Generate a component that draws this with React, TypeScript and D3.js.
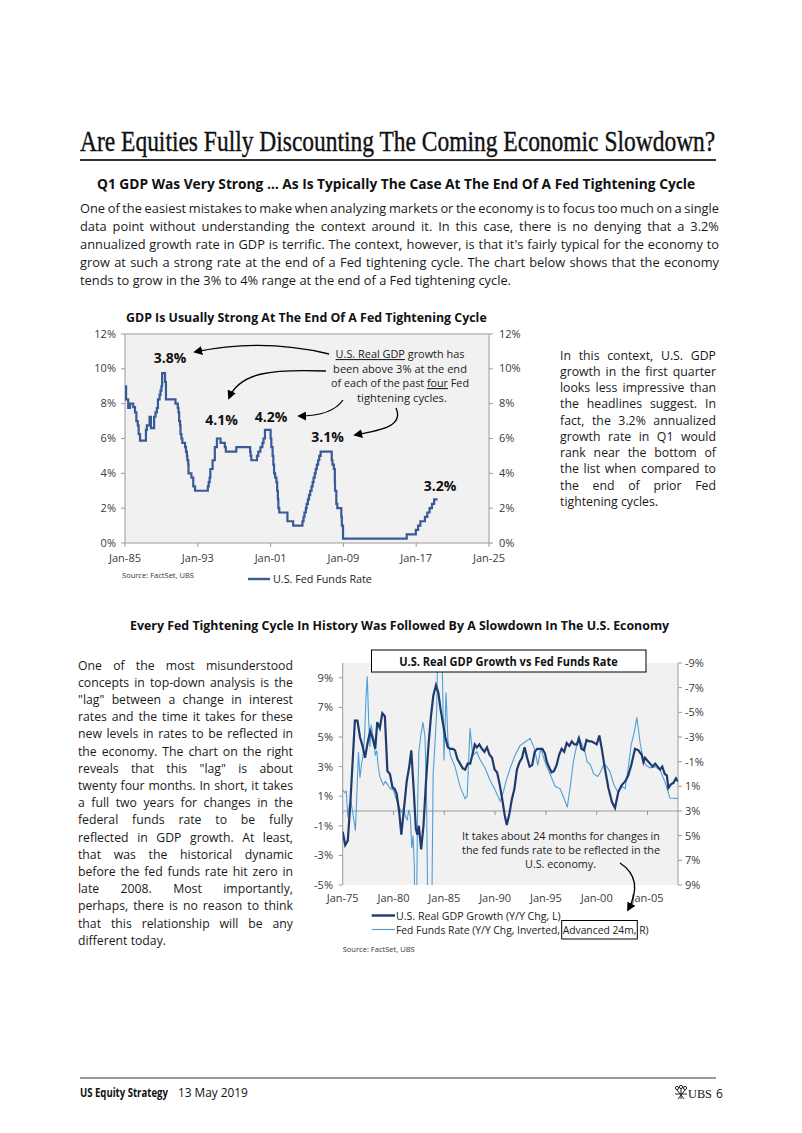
import React from "react";
import * as d3 from "d3";

const SANS = "'Open Sans', 'Noto Sans', sans-serif";
const SERIF = "'Liberation Serif', 'DejaVu Serif', serif";

// ---------- Top chart data: U.S. Fed Funds Rate (step changes) ----------
const fedYears = [
  1985.0, 1985.12, 1985.35, 1985.55, 1985.9, 1986.1, 1986.25, 1986.4, 1986.5, 1986.65,
  1987.3, 1987.4, 1987.7, 1987.85, 1988.2, 1988.35, 1988.5, 1988.62, 1988.8, 1988.9,
  1989.0, 1989.08, 1989.4, 1989.5, 1990.55, 1990.8, 1990.88, 1990.95, 1991.05, 1991.1,
  1991.2, 1991.3, 1991.6, 1991.7, 1991.8, 1991.85, 1991.95, 1991.98, 1992.3, 1992.5,
  1992.7, 1994.1, 1994.2, 1994.3, 1994.38, 1994.63, 1994.87, 1995.1, 1995.5, 1995.97,
  1996.08, 1997.23, 1998.75, 1998.8, 1998.88, 1999.5, 1999.65, 1999.88, 2000.1, 2000.22,
  2000.38, 2001.0, 2001.08, 2001.22, 2001.3, 2001.38, 2001.5, 2001.64, 2001.72, 2001.8,
  2001.85, 2001.95, 2002.85, 2003.48, 2004.5, 2004.62, 2004.72, 2004.87, 2004.96, 2005.1,
  2005.22, 2005.35, 2005.5, 2005.62, 2005.72, 2005.85, 2005.96, 2006.08, 2006.22, 2006.35,
  2006.5, 2007.72, 2007.8, 2007.95, 2008.06, 2008.08, 2008.22, 2008.33, 2008.77, 2008.83,
  2008.96, 2015.96, 2016.96, 2017.21, 2017.46, 2017.96, 2018.22, 2018.47, 2018.73, 2018.97,
  2019.35,
];
const fedRates = [
  9.0, 8.25, 7.75, 8.0, 7.8, 7.5, 7.0, 6.75, 6.25, 5.875,
  6.5, 6.75, 7.25, 6.6, 7.25, 7.5, 7.75, 8.25, 8.5, 8.75,
  9.0, 9.75, 9.25, 8.25, 8.0, 7.75, 7.5, 7.0, 6.75, 6.25,
  6.0, 5.75, 5.5, 5.25, 5.0, 4.75, 4.5, 4.0, 3.75, 3.25,
  3.0, 3.25, 3.5, 3.75, 4.25, 4.75, 5.5, 6.0, 5.75, 5.5,
  5.25, 5.5, 5.25, 5.0, 4.75, 5.0, 5.25, 5.5, 5.75, 6.0,
  6.5, 6.0, 5.5, 5.0, 4.5, 4.0, 3.75, 3.5, 3.0, 2.5,
  2.0, 1.75, 1.25, 1.0, 1.25, 1.5, 1.75, 2.0, 2.25, 2.5,
  2.75, 3.0, 3.25, 3.5, 3.75, 4.0, 4.25, 4.5, 4.75, 5.0,
  5.25, 4.75, 4.5, 4.25, 3.5, 3.0, 2.25, 2.0, 1.5, 1.0,
  0.25, 0.5, 0.75, 1.0, 1.25, 1.5, 1.75, 2.0, 2.25, 2.5,
  2.5,
];
const topYTicks = [0, 2, 4, 6, 8, 10, 12];
const topXTickYears = [1985, 1993, 2001, 2009, 2017, 2025];
const topXTickLabels = ["Jan-85", "Jan-93", "Jan-01", "Jan-09", "Jan-17", "Jan-25"];

// ---------- Bottom chart data ----------
const gdpYears = [
  1975.0, 1975.25, 1975.5, 1975.75, 1975.95, 1976.2, 1976.45, 1976.7, 1976.95, 1977.2,
  1977.45, 1977.7, 1977.95, 1978.2, 1978.4, 1978.65, 1978.9, 1979.15, 1979.4, 1979.65,
  1979.9, 1980.1, 1980.3, 1980.55, 1980.77, 1981.05, 1981.3, 1981.55, 1981.75, 1982.0,
  1982.2, 1982.35, 1982.5, 1982.72, 1982.95, 1983.2, 1983.45, 1983.7, 1983.92, 1984.18,
  1984.41, 1984.65, 1984.9, 1985.1, 1985.35, 1985.6, 1985.85, 1986.05, 1986.3, 1986.55,
  1986.8, 1987.05, 1987.3, 1987.55, 1987.8, 1988.0, 1988.2, 1988.45, 1988.7, 1988.95,
  1989.2, 1989.45, 1989.7, 1989.95, 1990.2, 1990.45, 1990.7, 1990.95, 1991.15, 1991.4,
  1991.65, 1991.9, 1992.15, 1992.4, 1992.65, 1992.9, 1993.15, 1993.4, 1993.65, 1993.9,
  1994.15, 1994.4, 1994.65, 1994.9, 1995.1, 1995.35, 1995.56, 1995.8, 1996.05, 1996.3,
  1996.55, 1996.8, 1997.05, 1997.3, 1997.55, 1997.8, 1998.05, 1998.25, 1998.5, 1998.75,
  1999.0, 1999.25, 1999.5, 1999.75, 2000.0, 2000.26, 2000.5, 2000.8, 2001.15, 2001.5,
  2001.8, 2002.13, 2002.46, 2002.8, 2003.1, 2003.4, 2003.77, 2004.1, 2004.43, 2004.6,
  2004.75, 2005.0, 2005.25, 2005.5, 2005.75, 2006.0, 2006.23, 2006.45, 2006.7, 2006.9,
  2007.05, 2007.3, 2007.55, 2007.8, 2008.0,
];
const gdpGrowth = [
  -1.4, -2.3, -2.0, 0.5, 3.0, 6.1, 6.1, 5.0, 4.4, 3.6,
  4.6, 5.4, 4.9, 4.2, 6.0, 5.6, 6.6, 6.4, 2.7, 2.5,
  1.6, 1.5, 1.2, 0.0, -1.6, 0.3, 2.0, 3.0, 4.1, 1.3,
  -1.2, -1.6, -1.0, -2.6, -1.0, 2.0, 4.5, 6.5, 7.8, 8.5,
  8.0, 6.8, 5.8, 5.0, 4.3, 4.2, 4.2, 4.1, 3.5, 3.2,
  2.9, 2.8, 3.2, 3.2, 3.9, 4.5, 4.3, 4.5, 4.2, 4.0,
  4.3, 3.8, 3.6, 2.8, 2.6, 1.8, 0.8, -0.3, -0.95, -0.2,
  0.8, 1.5, 2.8, 3.3, 3.6, 4.3, 3.6, 3.0, 3.1, 4.0,
  4.2, 4.2, 4.2, 3.9, 3.3, 2.9, 2.6, 2.7, 3.1, 3.8,
  4.2, 4.0, 4.6, 4.4, 4.7, 4.5, 4.5, 4.9, 4.2, 4.1,
  4.8, 4.7, 4.7, 4.6, 4.5, 5.1, 4.2, 2.9, 1.55, 0.6,
  0.2, 1.3, 1.75, 2.0, 2.4, 3.1, 4.2, 4.1, 3.8, 3.3,
  3.6, 3.4, 3.2, 3.0, 3.2, 3.0, 2.8, 3.0, 2.5, 2.4,
  1.55, 1.8, 1.9, 2.2, 2.0,
];
const ffYears = [
  1975.0, 1975.2, 1975.35, 1975.5, 1975.65, 1975.8, 1976.0, 1976.15, 1976.25, 1976.4,
  1976.55, 1976.7, 1976.85, 1977.0, 1977.15, 1977.3, 1977.42, 1977.55, 1977.68, 1977.8,
  1977.95, 1978.1, 1978.2, 1978.35, 1978.5, 1978.65, 1978.8, 1979.0, 1979.2, 1979.45,
  1979.7, 1980.0, 1980.25, 1980.5, 1980.75, 1981.0, 1981.2, 1981.35, 1981.5, 1981.65,
  1981.8, 1981.92, 1982.05, 1982.12, 1982.25, 1982.38, 1982.5, 1982.7, 1982.9, 1983.1,
  1983.25, 1983.4, 1983.75, 1983.9, 1984.05, 1984.25, 1984.4, 1984.7, 1984.97, 1985.17,
  1985.36, 1985.6, 1986.05, 1986.55, 1987.04, 1987.25, 1987.53, 1987.8, 1988.2, 1988.5,
  1989.0, 1989.5, 1990.0, 1990.5, 1990.8, 1991.1, 1991.5, 1991.95, 1992.45, 1992.95,
  1993.45, 1993.9, 1994.2, 1994.5, 1994.9, 1995.4, 1995.9, 1996.4, 1996.8, 1997.1,
  1997.4, 1997.7, 1998.0, 1998.2, 1998.5, 1998.85, 1999.05, 1999.35, 1999.7, 2000.1,
  2000.4, 2000.7, 2001.0, 2001.3, 2001.7, 2002.1, 2002.5, 2002.8, 2003.1, 2003.4,
  2003.7, 2003.95, 2004.26, 2004.55, 2004.85, 2005.25, 2005.75, 2006.25, 2006.65, 2006.9,
  2007.2, 2008.0,
];
const ffChangeInv = [
  1.3, 1.5, 1.4, 3.5, 2.5, 2.2, 3.2, 4.0, 4.6, 1.5,
  -1.8, 0.3, -0.8, -1.5, -3.0, -6.3, -7.9, -4.5, -2.2, -4.0,
  -3.2, -2.8, -1.5, -1.9, -0.6, 0.2, 0.5, 0.9, 0.6, 0.9,
  1.2, 1.3, 2.0, 2.5, 3.1, 2.8, 3.5, 3.7, 2.9, 3.4,
  6.0, 5.0, 7.5, 13, 13, 2.0, -1.8, -3.2, -4.2, -3.0,
  2.0, 13, 13, 0.0, -2.0, -5.0, -13, -13, -1.1, -6.6,
  -2.7, -1.5, -0.6, 1.0, 2.0, 1.8, -3.7, -1.5, -1.8, -1.2,
  -0.5, 0.5, 1.3, 2.2, 1.5, 0.5, -0.5, -1.5, -2.3, -2.6,
  -2.9, -2.0, -0.7, -2.1, -1.0, 0.0, 1.0, 1.2, 2.0, 2.7,
  1.0, -1.0, -2.2, -3.0, -2.5, -1.8, -1.0, -0.8, 0.0, 0.2,
  -0.2, -0.8, -0.6, -0.2, 0.9, 1.5, 1.0, 1.2, -0.5, -2.4,
  -3.4, -4.6, -2.6, -1.2, -0.7, -0.5, -0.6, -0.3, 0.5, 1.1,
  1.95, 2.0,
];
const botLeftTicks = [9, 7, 5, 3, 1, -1, -3, -5];
const botRightTicks = [-9, -7, -5, -3, -1, 1, 3, 5, 7, 9];
const botXTickYears = [1975, 1980, 1985, 1990, 1995, 2000, 2005];
const botXTickLabels = ["Jan-75", "Jan-80", "Jan-85", "Jan-90", "Jan-95", "Jan-00", "Jan-05"];

// ---------- Text ----------
const para1 = [
  "One of the easiest mistakes to make when analyzing markets or the economy is to focus too much on a single",
  "data point without understanding the context around it. In this case, there is no denying that a 3.2%",
  "annualized growth rate in GDP is terrific. The context, however, is that it's fairly typical for the economy to",
  "grow at such a strong rate at the end of a Fed tightening cycle. The chart below shows that the economy",
  "tends to grow in the 3% to 4% range at the end of a Fed tightening cycle.",
];
const paraRight = [
  "In this context, U.S. GDP",
  "growth in the first quarter",
  "looks less impressive than",
  "the headlines suggest. In",
  "fact, the 3.2% annualized",
  "growth rate in Q1 would",
  "rank near the bottom of",
  "the list when compared to",
  "the end of prior Fed",
  "tightening cycles.",
];
const paraLeft = [
  "One of the most misunderstood",
  "concepts in top-down analysis is the",
  "\"lag\" between a change in interest",
  "rates and the time it takes for these",
  "new levels in rates to be reflected in",
  "the economy. The chart on the right",
  "reveals that this \"lag\" is about",
  "twenty four months. In short, it takes",
  "a full two years for changes in the",
  "federal funds rate to be fully",
  "reflected in GDP growth. At least,",
  "that was the historical dynamic",
  "before the fed funds rate hit zero in",
  "late 2008. Most importantly,",
  "perhaps, there is no reason to think",
  "that this relationship will be any",
  "different today.",
];

let _ctx: CanvasRenderingContext2D | null = null;
function textWidth(t: string, font: string): number {
  if (!_ctx) _ctx = document.createElement("canvas").getContext("2d");
  if (!_ctx) return t.length * 6;
  _ctx.font = font;
  return _ctx.measureText(t).width;
}

function Para(props: { lines: string[]; x: number; y: number; width: number; lh: number; size: number; lastWidth: number }) {
  const { lines, x, y, width, lh, size, lastWidth } = props;
  const font = `400 ${size}px ${SANS}`;
  const k = lastWidth / textWidth(lines[lines.length - 1], font);
  const sp = textWidth(" ", font) * k;
  const out: React.ReactNode[] = [];
  lines.forEach((line, i) => {
    const words = line.split(" ");
    let ws = words.map((w) => textWidth(w, font) * k);
    const last = i === lines.length - 1;
    let gap = sp;
    if (!last && words.length > 1) {
      const tot = ws.reduce((a, b) => a + b, 0);
      gap = (width - tot) / (words.length - 1);
      if (gap < sp * 0.7) {
        const f = (width - sp * 0.7 * (words.length - 1)) / tot;
        ws = ws.map((w) => w * f);
        gap = sp * 0.7;
      }
    }
    let cx = x;
    words.forEach((w, j) => {
      out.push(
        <text key={`${i}-${j}`} x={cx} y={y + i * lh} fontSize={size} fontFamily={SANS} fill="#1a1a1a"
          textLength={ws[j]} lengthAdjust="spacingAndGlyphs">{w}</text>
      );
      cx += ws[j] + gap;
    });
  });
  return <g>{out}</g>;
}

// text fitted to a width by horizontal scaling (transform), optional vertical stretch
function FT(props: { x: number; y: number; w?: number; size: number; weight?: number; anchor?: string; family?: string; fill?: string; sy?: number; str?: string; stroke?: string; children: React.ReactNode }) {
  const { x, y, w, size, weight = 400, anchor = "start", family = SANS, fill = "#111", sy = 1, str, stroke, children } = props;
  const s = typeof children === "string" ? children : str || "";
  const sx = w ? w / textWidth(s, `${weight} ${size}px ${family}`) : 1;
  return (
    <text transform={`translate(${x},${y}) scale(${sx},${sy})`} x={0} y={0} fontSize={size} fontWeight={weight}
      fontFamily={family} fill={fill} stroke={stroke} strokeWidth={stroke ? 0.35 : undefined}
      textAnchor={anchor as any}>{children}</text>
  );
}

export default function App() {
  // top chart scales
  const tx = d3.scaleLinear().domain([1985, 2025]).range([125, 489]);
  const ty = d3.scaleLinear().domain([0, 12]).range([543, 334]);
  const fedPath = d3.line<number>().x((_, i) => tx(fedYears[i])).y((d) => ty(d)).curve(d3.curveStepAfter)(fedRates) || "";

  // bottom chart scales
  const bx = d3.scaleLinear().domain([1975, 2008]).range([342.7, 678]);
  const byL = d3.scaleLinear().domain([-5, 10]).range([885, 663]);
  const byR = d3.scaleLinear().domain([-9, 9]).range([663, 885]);
  const gdpPath = d3.line<number>().x((_, i) => bx(gdpYears[i])).y((d) => byL(d))(gdpGrowth) || "";
  const ffPath = d3.line<number>().x((_, i) => bx(ffYears[i])).y((d) => byR(d))(ffChangeInv) || "";

  const axisGray = "#9a9a9a";
  const tickText = "#3a3a3a";
  const fedColor = "#3a5a96";
  const gdpColor = "#1f3a6e";
  const ffColor = "#4f9fd6";

  return (
    <svg width={802} height={1133} viewBox="0 0 802 1133" style={{ position: "absolute", left: 0, top: 0, background: "#fff" }}>
      <defs>
        <marker id="ah" viewBox="0 0 10 10" refX="8" refY="5" markerWidth="9" markerHeight="9" markerUnits="userSpaceOnUse" orient="auto">
          <path d="M0,0 L10,5 L0,10 z" fill="#000" />
        </marker>
        <clipPath id="botclip"><rect x={342.7} y={663} width={335.3} height={222} /></clipPath>
      </defs>
      <rect x={0} y={0} width={802} height={1133} fill="#fff" />

      {/* Page title */}
      <FT x={80} y={151} w={636} size={26} sy={1.16} family={SERIF} fill="#111" stroke="#111">Are Equities Fully Discounting The Coming Economic Slowdown?</FT>
      <line x1={80} x2={716} y1={160} y2={160} stroke="#333" strokeWidth={2} />
      <FT x={97} y={189} w={599} size={13.5} weight={700} fill="#111">Q1 GDP Was Very Strong … As Is Typically The Case At The End Of A Fed Tightening Cycle</FT>
      <Para lines={para1} x={80} y={213} width={639} lh={17.9} size={13.5} lastWidth={431} />

      {/* ---------- Top chart ---------- */}
      <FT x={126} y={322} w={361} size={12} weight={700}>GDP Is Usually Strong At The End Of A Fed Tightening Cycle</FT>
      <rect x={125} y={334} width={364} height={209} fill="#f1f1f1" stroke={axisGray} strokeWidth={1} />
      {topYTicks.map((t) => (
        <g key={`ty${t}`}>
          <line x1={121} x2={125} y1={ty(t)} y2={ty(t)} stroke={axisGray} />
          <line x1={489} x2={493} y1={ty(t)} y2={ty(t)} stroke={axisGray} />
          <text x={116} y={ty(t) + 3.5} fontSize={11} fontFamily={SANS} fill={tickText} textAnchor="end">{t}%</text>
          <text x={499} y={ty(t) + 3.5} fontSize={11} fontFamily={SANS} fill={tickText}>{t}%</text>
        </g>
      ))}
      {topXTickYears.map((yr, i) => (
        <g key={`tx${yr}`}>
          <line x1={tx(yr)} x2={tx(yr)} y1={543} y2={547} stroke={axisGray} />
          <text x={tx(yr)} y={561.5} fontSize={11} fontFamily={SANS} fill={tickText} textAnchor="middle">{topXTickLabels[i]}</text>
        </g>
      ))}
      <path d={fedPath} fill="none" stroke={fedColor} strokeWidth={2.2} />

      {/* annotations */}
      <FT x={170} y={362.5} size={14} weight={700} anchor="middle">3.8%</FT>
      <FT x={221.5} y={425} size={14} weight={700} anchor="middle">4.1%</FT>
      <FT x={271} y={421.5} size={14} weight={700} anchor="middle">4.2%</FT>
      <FT x={327.5} y={442} size={14} weight={700} anchor="middle">3.1%</FT>
      <FT x={440} y={490.5} size={14} weight={700} anchor="middle">3.2%</FT>
      <FT x={400} y={358} w={129} size={11} anchor="middle" fill="#222" str="U.S. Real GDP growth has">
        <tspan textDecoration="underline">U.S. Real GDP</tspan> growth has
      </FT>
      <FT x={400} y={372.5} w={134} size={11} anchor="middle" fill="#222">been above 3% at the end</FT>
      <FT x={400} y={387} w={138} size={11} anchor="middle" fill="#222" str="of each of the past four Fed">
        of each of the past <tspan textDecoration="underline">four</tspan> Fed
      </FT>
      <FT x={402} y={401.5} w={90} size={11} anchor="middle" fill="#222">tightening cycles.</FT>
      <g fill="none" stroke="#000" strokeWidth={1.3}>
        <path d="M329,354 Q262,338 195,352" markerEnd="url(#ah)" />
        <path d="M326,371 C272,369 240,372 229,398" markerEnd="url(#ah)" />
        <path d="M343,400 Q332,416 299,416" markerEnd="url(#ah)" />
        <path d="M396,408 C404,426 382,430 355,435" markerEnd="url(#ah)" />
      </g>
      <FT x={122} y={578} w={72} size={8} fill="#333">Source: FactSet, UBS</FT>
      <line x1={248} x2={270} y1={579} y2={579} stroke={fedColor} strokeWidth={2.4} />
      <FT x={273} y={583} w={99} size={11.5} fill="#222">U.S. Fed Funds Rate</FT>

      <Para lines={paraRight} x={560} y={359.5} width={156} lh={16.25} size={12.5} lastWidth={98} />

      {/* ---------- Bottom section ---------- */}
      <FT x={130} y={629.5} w={540} size={12.5} weight={700}>Every Fed Tightening Cycle In History Was Followed By A Slowdown In The U.S. Economy</FT>
      <Para lines={paraLeft} x={78} y={669.5} width={215} lh={17.2} size={12.5} lastWidth={88} />

      <rect x={342.7} y={663} width={335.3} height={222} fill="#f1f1f1" />
      <line x1={342.7} x2={342.7} y1={663} y2={885} stroke={axisGray} />
      <line x1={678} x2={678} y1={663} y2={885} stroke={axisGray} />
      <line x1={342.7} x2={678} y1={byL(0)} y2={byL(0)} stroke={axisGray} />
      {botLeftTicks.map((t) => (
        <g key={`bl${t}`}>
          <line x1={338.7} x2={342.7} y1={byL(t)} y2={byL(t)} stroke={axisGray} />
          <text x={333} y={byL(t) + 4} fontSize={11} fontFamily={SANS} fill={tickText} textAnchor="end">{t}%</text>
        </g>
      ))}
      {botRightTicks.map((t) => (
        <g key={`br${t}`}>
          <line x1={678} x2={682} y1={byR(t)} y2={byR(t)} stroke={axisGray} />
          <text x={685} y={byR(t) + 4} fontSize={11} fontFamily={SANS} fill={tickText}>{t}%</text>
        </g>
      ))}
      {botXTickYears.map((yr, i) => (
        <g key={`bx${yr}`}>
          <line x1={bx(yr)} x2={bx(yr)} y1={byL(0)} y2={byL(0) + 4} stroke={axisGray} />
          <text x={bx(yr)} y={902} fontSize={11} fontFamily={SANS} fill={tickText} textAnchor="middle">{botXTickLabels[i]}</text>
        </g>
      ))}
      <g clipPath="url(#botclip)">
        <path d={ffPath} fill="none" stroke={ffColor} strokeWidth={1.1} />
        <path d={gdpPath} fill="none" stroke={gdpColor} strokeWidth={2.2} />
      </g>
      <rect x={371.5} y={650} width={274.5} height={22} fill="#fff" stroke="#000" strokeWidth={1} />
      <FT x={508.5} y={665.5} w={219} size={12} weight={700} anchor="middle">U.S. Real GDP Growth vs Fed Funds Rate</FT>

      <FT x={561} y={840} w={198} size={11.5} anchor="middle" fill="#222">It takes about 24 months for changes in</FT>
      <FT x={561} y={854} w={198} size={11.5} anchor="middle" fill="#222">the fed funds rate to be reflected in the</FT>
      <FT x={560.5} y={868} w={71} size={11.5} anchor="middle" fill="#222">U.S. economy.</FT>
      <path d="M620,863 C640,876 636,895 628,910" fill="none" stroke="#000" strokeWidth={1.3} markerEnd="url(#ah)" />

      <line x1={371.7} x2={395} y1={915.5} y2={915.5} stroke={gdpColor} strokeWidth={2.4} />
      <FT x={396} y={919.5} w={165} size={11} fill="#222">U.S. Real GDP Growth (Y/Y Chg, L)</FT>
      <line x1={371.7} x2={395} y1={929.5} y2={929.5} stroke={ffColor} strokeWidth={1.2} />
      <FT x={396} y={933.5} w={253} size={11} fill="#222">Fed Funds Rate (Y/Y Chg, Inverted, Advanced 24m, R)</FT>
      <rect x={561.7} y={920.5} width={75.6} height={18.5} fill="none" stroke="#000" strokeWidth={1} />
      <FT x={342.7} y={952} w={72} size={8} fill="#333">Source: FactSet, UBS</FT>

      {/* ---------- Footer ---------- */}
      <line x1={80} x2={716} y1={1078} y2={1078} stroke="#333" strokeWidth={1.2} />
      <FT x={80} y={1097} w={88} size={12} weight={700}>US Equity Strategy</FT>
      <FT x={178} y={1097} w={70} size={12}>13 May 2019</FT>
      <g stroke="#222" strokeWidth={1} fill="none">
        <circle cx={677} cy={1088} r={1.6} />
        <circle cx={681} cy={1087} r={1.6} />
        <circle cx={685} cy={1088} r={1.6} />
        <line x1={677} y1={1090} x2={684} y2={1099} />
        <line x1={685} y1={1090} x2={678} y2={1099} />
        <line x1={681} y1={1089} x2={681} y2={1099} />
        <line x1={675} y1={1094} x2={687} y2={1094} />
      </g>
      <FT x={688} y={1098} w={24} size={13} family={SERIF}>UBS</FT>
      <FT x={716} y={1098} size={12}>6</FT>
    </svg>
  );
}
